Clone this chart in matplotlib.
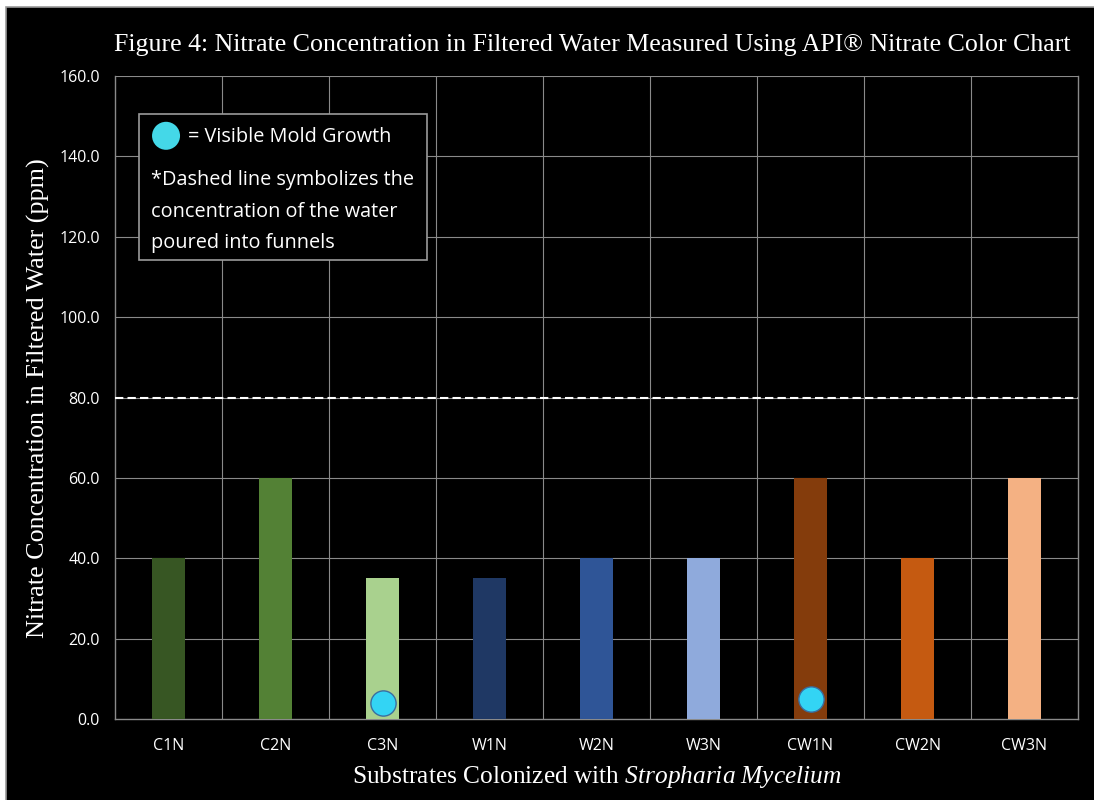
import matplotlib
matplotlib.use("Agg")
import matplotlib.pyplot as plt
from matplotlib.patches import Rectangle, Ellipse

# Data
categories = ["C1N", "C2N", "C3N", "W1N", "W2N", "W3N", "CW1N", "CW2N", "CW3N"]
nitrate_ppm = [40, 60, 35, 35, 40, 40, 60, 40, 60]
bar_colors = ["#375623", "#538135", "#A9D18E", "#1F3864", "#2F5597",
              "#8FAADC", "#843C0C", "#C55A11", "#F4B183"]
mold_categories = ["C3N", "CW1N"]
mold_marker_level = [4, 5]
poured_concentration = 80
y_ticks = [0, 20, 40, 60, 80, 100, 120, 140, 160]

plt.rcParams["mathtext.fontset"] = "custom"
plt.rcParams["mathtext.rm"] = "Liberation Serif"
plt.rcParams["mathtext.it"] = "Liberation Serif:italic"

fig = plt.figure(figsize=(10.94, 8.0), dpi=100)
fig.patch.set_facecolor("white")
# black panel with thin gray edge
fig.add_artist(Rectangle((6 / 1094, -0.01), 1.0, 1 - 6.5 / 800 + 0.01,
                         transform=fig.transFigure, facecolor="black",
                         edgecolor="#9a9a9a", linewidth=1.2, zorder=0))

ax = fig.add_axes([115 / 1094, 1 - 719 / 800, 963 / 1094, 643 / 800])
ax.set_facecolor("black")

x = list(range(len(categories)))
ax.bar(x, nitrate_ppm, width=0.31, color=bar_colors, zorder=3)

ax.set_xlim(-0.5, len(categories) - 0.5)
ax.set_ylim(0, 160)
ax.set_yticks(y_ticks)
ax.set_yticklabels([f"{v:.1f}" for v in y_ticks])
ax.set_xticks(x)
ax.set_xticklabels(categories)

# vertical dividers between categories and horizontal gridlines
grid_kw = dict(color="#8a8a8a", linewidth=0.8, zorder=1)
for b in [i + 0.5 for i in range(len(categories) - 1)]:
    ax.axvline(b, **grid_kw)
for v in y_ticks[1:]:
    ax.axhline(v, **grid_kw)

for side in ["left", "bottom", "right"]:
    ax.spines[side].set_color("#8a8a8a")
    ax.spines[side].set_linewidth(1.0)
ax.spines["top"].set_visible(False)
ax.tick_params(length=0, colors="white", labelsize=11.5, pad=11)
ax.tick_params(axis="x", pad=14)
for lab in ax.get_xticklabels() + ax.get_yticklabels():
    lab.set_fontfamily("Open Sans")
    lab.set_color("white")

# concentration of the water poured into the funnels
ax.axhline(poured_concentration, color="white", linewidth=1.5,
           linestyle=(0, (4, 2)), zorder=4)

# visible mold growth markers
for cat, lvl in zip(mold_categories, mold_marker_level):
    ax.scatter(categories.index(cat), lvl, s=330, color="#33D4F4",
               edgecolors="#3A6EA0", linewidths=1.0, zorder=5)

# note box
ax.add_patch(Rectangle((0.025, 0.714), 0.299, 0.227, transform=ax.transAxes,
                       facecolor="black", edgecolor="#9a9a9a",
                       linewidth=1.2, zorder=6))
ax.add_patch(Ellipse((0.053, 0.907), 28 / 963, 28 / 643, transform=ax.transAxes,
                     facecolor="#44D8E8", edgecolor="none", zorder=7))
note_kw = dict(transform=ax.transAxes, color="white", fontsize=14.3,
               fontfamily="Open Sans", va="center", ha="left", zorder=7)
ax.text(0.076, 0.905, "= Visible Mold Growth", **note_kw)
ax.text(0.037, 0.838, "*Dashed line symbolizes the", **note_kw)
ax.text(0.037, 0.789, "concentration of the water", **note_kw)
ax.text(0.037, 0.740, "poured into funnels", **note_kw)

fig.text(592 / 1094, 1 - 45 / 800,
         "Figure 4: Nitrate Concentration in Filtered Water Measured Using API® Nitrate Color Chart",
         ha="center", va="center", color="white", fontsize=18.6,
         fontfamily="Liberation Serif")
fig.text(38 / 1094, 1 - 398 / 800,
         "Nitrate Concentration in Filtered Water (ppm)",
         ha="center", va="center", rotation=90, color="white", fontsize=18.8,
         fontfamily="Liberation Serif")
fig.text(597 / 1094, 1 - 777 / 800,
         r"Substrates Colonized with $\it{Stropharia\ Mycelium}$",
         ha="center", va="center", color="white", fontsize=18.3,
         fontfamily="Liberation Serif")

fig.savefig("out.png", dpi=100, facecolor=fig.get_facecolor())
